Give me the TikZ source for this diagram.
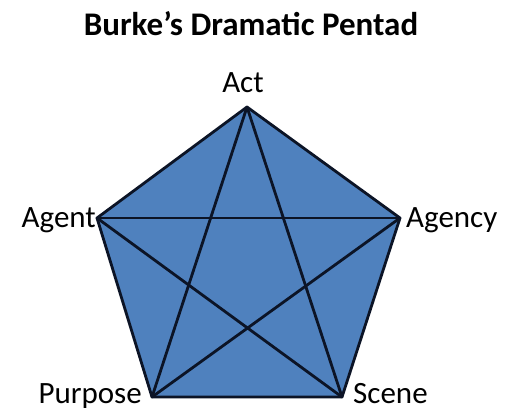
\documentclass[tikz,border=0pt]{standalone}
\usepackage{fontspec}
\setmainfont{Carlito}
\definecolor{pentfill}{RGB}{79,129,190}
\definecolor{pentline}{RGB}{12,20,38}
\begin{document}
\begin{tikzpicture}[x=1pt,y=-1pt,
  lbl/.style={inner sep=0pt,font=\fontsize{31}{33}\selectfont},
  edge/.style={draw=pentline,line width=2.8pt,line join=round,line cap=round}]
\useasboundingbox (0,0) rectangle (505,410);
\fill[white] (0,0) rectangle (505,410);
\node[inner sep=0pt,anchor=base,font=\bfseries\fontsize{33}{35}\selectfont] (title) at (251,35) {Burke’s Dramatic Pentad};
\coordinate (act) at (247,107);
\coordinate (agent) at (97,218);
\coordinate (agency) at (400,218);
\coordinate (purpose) at (152,397);
\coordinate (scene) at (342,397);
\fill[pentfill] (act) -- (agency) -- (scene) -- (purpose) -- (agent) -- cycle;
\draw[edge] (act) -- (agency) -- (scene) -- (purpose) -- (agent) -- cycle;
\draw[edge] (act) -- (purpose);
\draw[edge] (act) -- (scene);
\draw[edge] (agent) -- (agency);
\draw[edge] (agent) -- (scene);
\draw[edge] (agency) -- (purpose);
\node[lbl,anchor=base] (lact) at (243,92) {Act};
\node[lbl,anchor=base east] (lagent) at (96,227) {Agent};
\node[lbl,anchor=base west] (lagency) at (406,227) {Agency};
\node[lbl,anchor=base east] (lpurpose) at (142,403) {Purpose};
\node[lbl,anchor=base west] (lscene) at (353,403) {Scene};
\end{tikzpicture}
\end{document}
